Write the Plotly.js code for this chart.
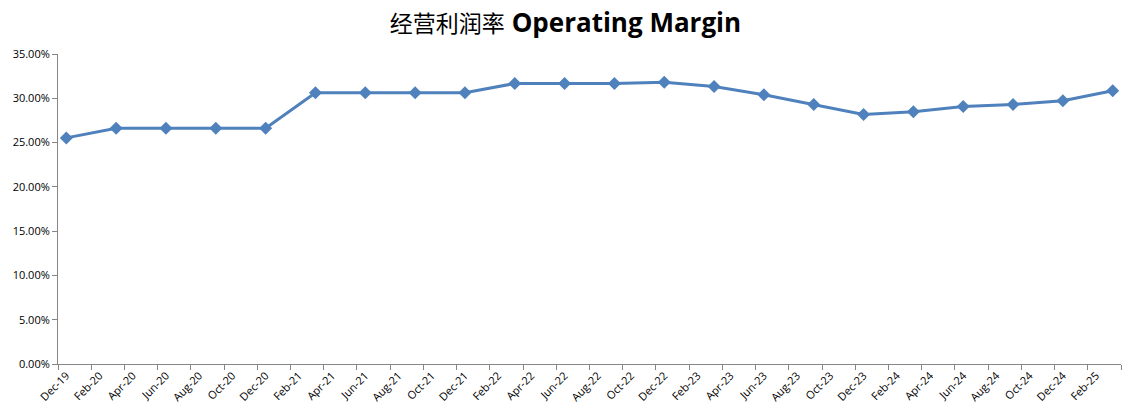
<!DOCTYPE html>
<html>
<head>
<meta charset="utf-8">
<script src="https://cdn.plot.ly/plotly-3.0.1.min.js"></script>
<style>html,body{margin:0;padding:0;background:#fff;}#chart{width:1131px;height:417px;}</style>
</head>
<body>
<div id="chart"></div>
<script>
// Quarterly data points (month label, operating margin)
var periods = ['Dec-19','Mar-20','Jun-20','Sep-20','Dec-20','Mar-21','Jun-21','Sep-21','Dec-21',
  'Mar-22','Jun-22','Sep-22','Dec-22','Mar-23','Jun-23','Sep-23','Dec-23','Mar-24','Jun-24','Sep-24','Dec-24','Mar-25'];
var margins = [0.2553,0.2662,0.2662,0.2662,0.2662,0.3062,0.3062,0.3062,0.3062,
  0.3167,0.3167,0.3167,0.3182,0.3133,0.3040,0.2930,0.2817,0.2847,0.2907,0.2930,0.2972,0.3085];
// Axis tick labels (every two months)
var tickLabels = ['Dec-19','Feb-20','Apr-20','Jun-20','Aug-20','Oct-20','Dec-20','Feb-21','Apr-21','Jun-21',
  'Aug-21','Oct-21','Dec-21','Feb-22','Apr-22','Jun-22','Aug-22','Oct-22','Dec-22','Feb-23','Apr-23','Jun-23',
  'Aug-23','Oct-23','Dec-23','Feb-24','Apr-24','Jun-24','Aug-24','Oct-24','Dec-24','Feb-25'];

var MON = {Jan:0,Feb:1,Mar:2,Apr:3,May:4,Jun:5,Jul:6,Aug:7,Sep:8,Oct:9,Nov:10,Dec:11};
function monthIndex(s){
  var p = s.split('-');
  var y = 2000 + parseInt(p[1],10);
  return (y - 2019) * 12 + MON[p[0]] - 11; // months since Dec-19
}
var xs = periods.map(monthIndex);
var tickVals = tickLabels.map(monthIndex);

var trace = {
  x: xs, y: margins, type: 'scatter', mode: 'lines+markers',
  line: {color: '#4F81BD', width: 3},
  marker: {symbol: 'diamond', size: 10, color: '#4F81BD'},
  text: periods, hoverinfo: 'text+y'
};

var tickFont = {family: '"Open Sans", sans-serif', size: 11, color: '#000'};

var layout = {
  width: 1131, height: 417,
  margin: {l: 58, r: 10, t: 54, b: 53},
  paper_bgcolor: '#fff', plot_bgcolor: '#fff',
  showlegend: false,
  font: {family: '"Open Sans", "Noto Sans CJK SC", sans-serif', size: 11, color: '#000'},
  title: {
    text: '<span style="font-family:\'Noto Sans CJK SC\';font-weight:normal;font-size:23px">经营利润率</span> <b>Operating Margin</b>',
    font: {family: '"Open Sans", "Noto Sans CJK SC", sans-serif', size: 26, color: '#000'},
    x: 0.5, xanchor: 'center', y: 0.945, yanchor: 'middle'
  },
  xaxis: {
    range: [-0.5, 63.5], showgrid: false, zeroline: false,
    showline: true, linecolor: '#868686', linewidth: 1,
    tickmode: 'array', tickvals: tickVals, ticktext: tickLabels,
    ticks: '', tickangle: -45,
    tickfont: tickFont,
    minor: {tick0: -0.5, dtick: 2, ticks: 'outside', ticklen: 5, tickcolor: '#868686', showgrid: false}
  },
  yaxis: {
    range: [0, 0.35], dtick: 0.05, tickformat: '.2%', showgrid: false, zeroline: false,
    showline: true, linecolor: '#868686', linewidth: 1,
    ticks: 'outside', ticklen: 5, tickcolor: '#868686',
    tickfont: tickFont
  }
};

Plotly.newPlot('chart', [trace], layout, {displayModeBar: false, responsive: false});
</script>
</body>
</html>
